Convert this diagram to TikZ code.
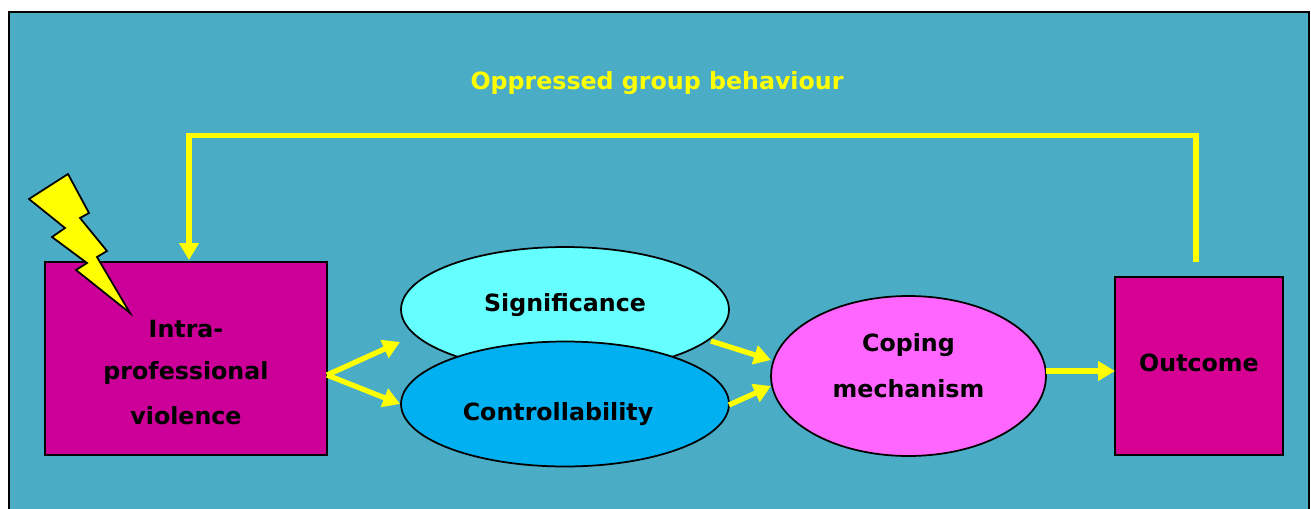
\documentclass[tikz,border=0pt]{standalone}
\usepackage{fontspec}
\setmainfont{DejaVu Sans}
\usetikzlibrary{arrows.meta,shapes.geometric}
\definecolor{panelblue}{HTML}{4BACC6}
\definecolor{boxmagenta}{HTML}{CC0099}
\definecolor{outmagenta}{HTML}{D60093}
\definecolor{sigcyan}{HTML}{66FFFF}
\definecolor{ctrlblue}{HTML}{00B0F0}
\definecolor{copepink}{HTML}{FF66FF}
\definecolor{boltyellow}{HTML}{FFFF00}
\tikzset{box/.style = {draw, line width=0.035cm, rectangle, inner sep=0pt},
         oval/.style = {draw, line width=0.035cm, ellipse, inner sep=0pt, minimum width=6.56cm, minimum height=2.5cm},
         lbl/.style = {font=\fontsize{13.5}{14}\selectfont\bfseries, inner sep=0pt},
         arr/.style = {-{Triangle[length=0.34cm,width=0.38cm]}, boltyellow, line width=0.105cm}}

\begin{document}
\begin{tikzpicture}[x=0.02cm,y=-0.02cm]
    \clip (0,0) rectangle (1311,508);
    \fill[white] (0,0) rectangle (1311,508);
    \draw[fill=panelblue,line width=0.045cm](9,12) rectangle (1309,530);

    \node[lbl,boltyellow](title)at(657,83){Oppressed group behaviour};

    % boxes and ovals
    \node[box,fill=boxmagenta,minimum width=5.64cm,minimum height=3.86cm](violence)at(186,358.5){};
    \node[box,fill=outmagenta,minimum width=3.36cm,minimum height=3.56cm](outcome)at(1199,366){};
    \node[oval,fill=sigcyan](sig)at(565,309.5){};
    \node[oval,fill=ctrlblue](ctrl)at(565,404){};
    \node[oval,fill=copepink,minimum width=5.5cm,minimum height=3.2cm](cope)at(908.5,376){};

    % lightning
    \draw[fill=boltyellow,line width=0.035cm,line join=miter](68,174)--(89,213)--(80,218)--(107,251)--(97,257)
        --(130,313)--(76,270)--(87,263)--(52,237)--(65,228)--(29,199)--cycle;

    % labels
    \node[lbl](l1)at(186,329){Intra-};
    \node[lbl](l2)at(186,373){professional};
    \node[lbl](l3)at(186,416){violence};
    \node[lbl](sigtxt)at(565,305){Significance};
    \node[lbl](ctrltxt)at(558,414){Controllability};
    \node[lbl](l4)at(908.5,345){Coping};
    \node[lbl](l5)at(908.5,388.5){mechanism};
    \node[lbl](outtxt)at(1199,363){Outcome};

    % connector ends
    \coordinate(fork)at(327,375);
    \coordinate(sigin)at(400,342);
    \coordinate(sigout)at(711,341);
    \coordinate(ctrlout)at(729,405);
    \coordinate(copeina)at(771,360);
    \coordinate(copeinb)at(771,386);
    \coordinate(copeout)at(1046,371);
    \coordinate(outin)at(1115,371);
    \coordinate(backstart)at(1196,262);
    \coordinate(backa)at(1196,135.5);
    \coordinate(backb)at(189,135.5);
    \coordinate(backend)at(189,260);

    \draw[arr](fork)--(sigin);
    \draw[arr](fork)--(ctrl.west);
    \draw[arr](sigout)--(copeina);
    \draw[arr](ctrlout)--(copeinb);
    \draw[arr](copeout)--(outin);
    \draw[arr](backstart)--(backa)--(backb)--(backend);
\end{tikzpicture}
\end{document}
